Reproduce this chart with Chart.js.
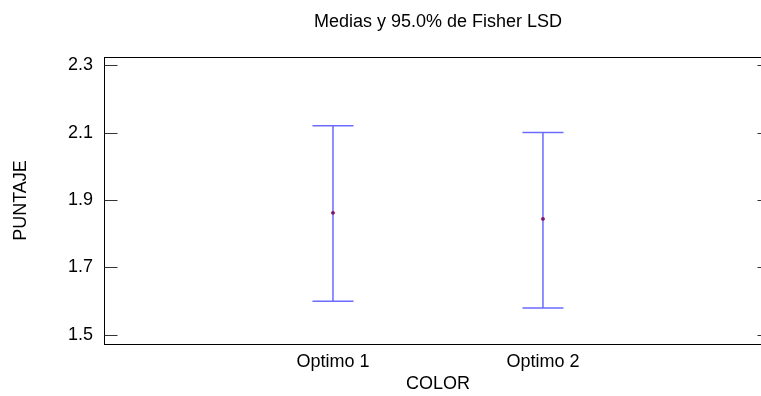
<!DOCTYPE html>
<html>
<head>
<meta charset="utf-8">
<script src="https://cdn.jsdelivr.net/npm/chart.js@4/dist/chart.umd.min.js"></script>
<style>
  html, body { margin: 0; padding: 0; background: #fff; width: 761px; height: 396px; overflow: hidden; }
  /* plot runs a little past the right edge, so the canvas is wider than the page */
  #wrap { width: 771px; height: 396px; }
</style>
</head>
<body>
<div id="wrap"><canvas id="lsdChart"></canvas></div>
<script>
const categories = ["Optimo 1", "Optimo 2"];
const means = [1.862, 1.844];
const lower = [1.600, 1.580];
const upper = [2.120, 2.100];
const yTicks = [1.5, 1.7, 1.9, 2.1, 2.3];

const FONT = "'Liberation Sans', Arial, sans-serif";

// vertical interval line plus the two caps for every category
const errorBars = {
    id: "errorBars",
    afterDatasetsDraw(chart) {
        const { ctx, scales: { x, y } } = chart;
        ctx.save();
        ctx.strokeStyle = "#6b6bff";
        ctx.lineWidth = 1.5;
        categories.forEach((c, i) => {
            const px = x.getPixelForValue(i + 1);
            const top = y.getPixelForValue(upper[i]);
            const bot = y.getPixelForValue(lower[i]);
            const half = 20.5;
            ctx.beginPath();
            ctx.moveTo(px, top);
            ctx.lineTo(px, bot);
            ctx.moveTo(px - half, top);
            ctx.lineTo(px + half, top);
            ctx.moveTo(px - half, bot);
            ctx.lineTo(px + half, bot);
            ctx.stroke();
        });
        // mean markers on top of the lines
        categories.forEach((c, i) => {
            const px = x.getPixelForValue(i + 1);
            const py = y.getPixelForValue(means[i]);
            ctx.beginPath();
            ctx.arc(px, py, 1.6, 0, Math.PI * 2);
            ctx.fillStyle = "#5a1a8a";
            ctx.fill();
            ctx.strokeStyle = "#b0204a";
            ctx.lineWidth = 0.8;
            ctx.stroke();
        });
        ctx.restore();
    }
};

// frame around the plot with inward ticks on both sides
const frame = {
    id: "frame",
    beforeDatasetsDraw(chart) {
        const { ctx, chartArea: a, scales: { y } } = chart;
        ctx.save();
        ctx.strokeStyle = "#000";
        ctx.lineWidth = 1;
        const l = Math.round(a.left) - 0.5, r = Math.round(a.right) - 0.5;
        const t = Math.round(a.top) + 0.5, b = Math.round(a.bottom) + 0.5;
        ctx.strokeRect(l, t, r - l, b - t);
        ctx.strokeStyle = "#333";
        yTicks.forEach(v => {
            const py = Math.round(y.getPixelForValue(v)) + 0.5;
            ctx.beginPath();
            ctx.moveTo(l, py);
            ctx.lineTo(l + 13, py);
            ctx.moveTo(r, py);
            ctx.lineTo(r - 13, py);
            ctx.stroke();
        });
        ctx.restore();
    }
};

new Chart(document.getElementById("lsdChart"), {
    type: "scatter",
    data: {
        datasets: [{
            data: means.map((m, i) => ({ x: i + 1, y: m })),
            pointRadius: 0
        }]
    },
    options: {
        responsive: true,
        maintainAspectRatio: false,
        animation: false,
        layout: { padding: 0 },
        plugins: {
            legend: { display: false },
            tooltip: { enabled: false },
            title: {
                display: true,
                text: "Medias y 95.0% de Fisher LSD",
                fullSize: false,
                color: "#000",
                font: { family: FONT, size: 18, weight: "normal" },
                padding: { top: 11, bottom: 24.4 }
            }
        },
        scales: {
            x: {
                type: "linear",
                min: -0.0857,
                max: 3.086,
                grid: { display: false, tickLength: 0 },
                border: { display: false },
                afterBuildTicks: (s) => { s.ticks = categories.map((c, i) => ({ value: i + 1 })); },
                afterFit: (s) => { s.height = 52; },
                ticks: {
                    padding: 7,
                    color: "#000",
                    font: { family: FONT, size: 18 },
                    callback: (v) => categories[v - 1]
                },
                title: {
                    display: true,
                    text: "COLOR",
                    color: "#000",
                    font: { family: FONT, size: 18 },
                    padding: { top: 1, bottom: 1 }
                }
            },
            y: {
                min: 1.473,
                max: 2.324,
                grid: { display: false, tickLength: 0 },
                border: { display: false },
                afterBuildTicks: (s) => { s.ticks = yTicks.map(v => ({ value: v })); },
                afterFit: (s) => { s.width = 105; },
                ticks: {
                    padding: 12,
                    color: "#000",
                    font: { family: FONT, size: 18 },
                    callback: (v) => v.toFixed(1)
                },
                title: {
                    display: true,
                    text: "PUNTAJE",
                    color: "#000",
                    font: { family: FONT, size: 18 },
                    padding: { top: 10.7, bottom: 10.7 }
                }
            }
        }
    },
    plugins: [frame, errorBars]
});
</script>
</body>
</html>
